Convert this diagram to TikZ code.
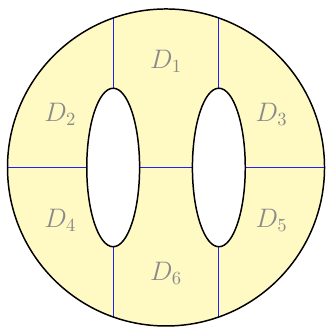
\documentclass[tikz,border=0pt]{standalone}
\usepackage{amsmath,amssymb}
\usepackage{xcolor}
\usepackage{tikz}
\usetikzlibrary{calc}
\definecolor{diskfill}{HTML}{FFF9C4}
\definecolor{cutblue}{HTML}{2020FF}
\definecolor{labelgray}{HTML}{8A8A8A}
\tikzset{every node/.append style={font=\Large}}
\begin{document}
\begin{tikzpicture}[x=1cm,y=1cm]
  \useasboundingbox (-3.142,-3.038) rectangle (3.01,3.17);
  % disk of radius 3 with two holes at (-1,0) and (1,0), radii .5 and 1.5
  \fill[diskfill,even odd rule] (0,0) circle (3)
    (-1,0) ellipse (0.5 and 1.5) (1,0) ellipse (0.5 and 1.5);
  \coordinate (W) at (-3,0);
  \coordinate (E) at (3,0);
  \coordinate (Lw) at (-1.5,0);
  \coordinate (Le) at (-0.5,0);
  \coordinate (Rw) at (0.5,0);
  \coordinate (Re) at (1.5,0);
  \coordinate (Ln) at (-1,1.5);
  \coordinate (Ls) at (-1,-1.5);
  \coordinate (Rn) at (1,1.5);
  \coordinate (Rs) at (1,-1.5);
  \coordinate (LN) at (-1,{sqrt(8)});
  \coordinate (LS) at (-1,{-sqrt(8)});
  \coordinate (RN) at (1,{sqrt(8)});
  \coordinate (RS) at (1,{-sqrt(8)});
  % cuts
  \draw[cutblue,line width=.5pt] (W)--(Lw) (Le)--(Rw) (Re)--(E);
  \draw[cutblue,line width=.5pt] (LN)--(Ln) (Ls)--(LS) (RN)--(Rn) (Rs)--(RS);
  % boundary
  \draw[black,thick] (0,0) circle (3);
  \draw[black,thick] (-1,0) ellipse (0.5 and 1.5);
  \draw[black,thick] (1,0) ellipse (0.5 and 1.5);
  \node[labelgray] (d1) at (0,2) {$D_1$};
  \node[labelgray] (d2) at (-2,1) {$D_2$};
  \node[labelgray] (d3) at (2,1) {$D_3$};
  \node[labelgray] (d4) at (-2,-1) {$D_4$};
  \node[labelgray] (d5) at (2,-1) {$D_5$};
  \node[labelgray] (d6) at (0,-2) {$D_6$};
\end{tikzpicture}
\end{document}
